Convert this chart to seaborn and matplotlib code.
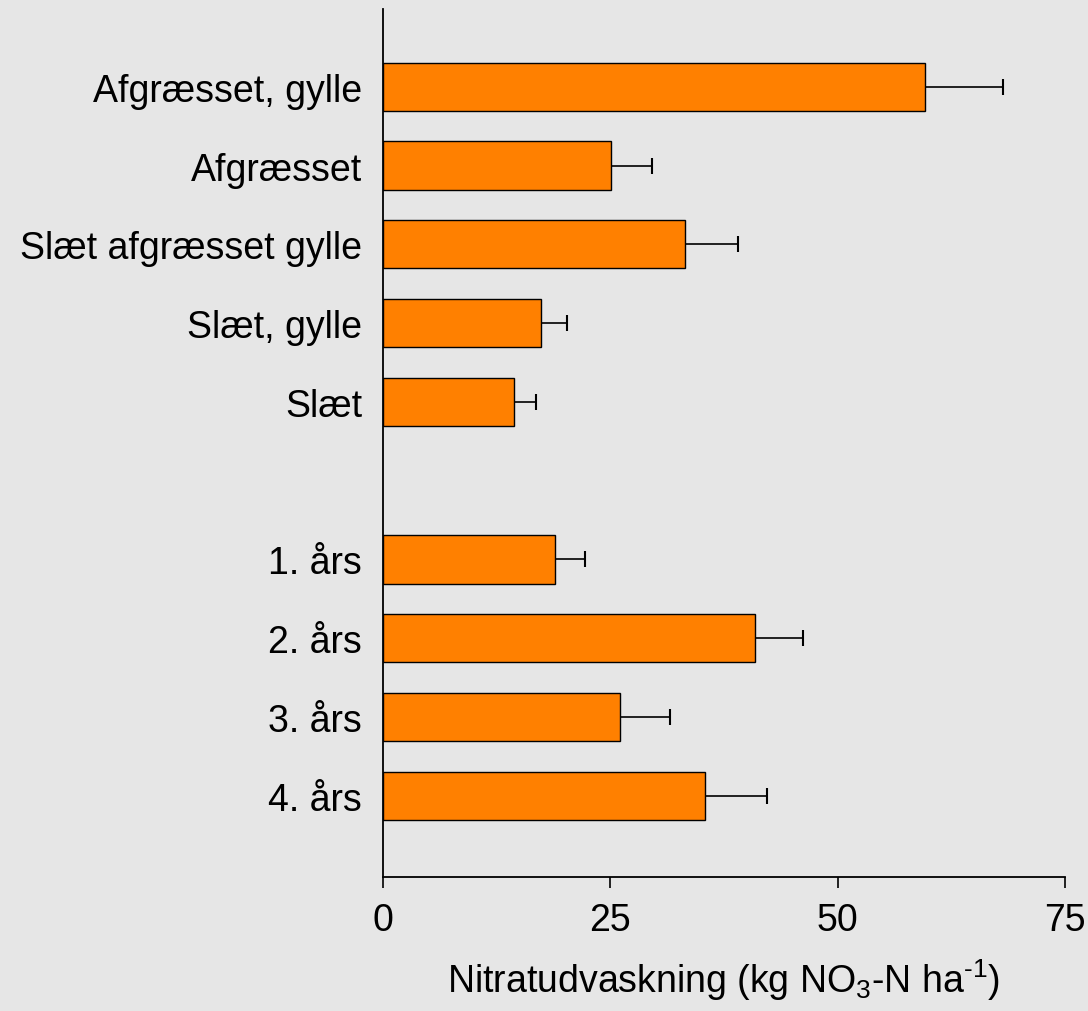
import numpy as np
import pandas as pd
import matplotlib
matplotlib.use("Agg")
import matplotlib.pyplot as plt
import seaborn as sns

# data (kg NO3-N per ha)
categories = ['Afgræsset, gylle', 'Afgræsset', 'Slæt afgræsset gylle', 'Slæt, gylle', 'Slæt',
              ' ', '1. års', '2. års', '3. års', '4. års']
values = [59.6, 25.1, 33.2, 17.4, 14.4, np.nan, 18.9, 40.9, 26.1, 35.4]
errors = [8.6, 4.5, 5.8, 2.8, 2.4, np.nan, 3.3, 5.3, 5.5, 6.8]
x_ticks = [0, 25, 50, 75]

df = pd.DataFrame({'Kategori': categories, 'Udvaskning': values, 'Fejl': errors})

sns.set_style('white')
plt.rcParams['font.family'] = ['Liberation Sans', 'DejaVu Sans']
plt.rcParams['mathtext.fontset'] = 'custom'
plt.rcParams['mathtext.rm'] = 'Liberation Sans'
plt.rcParams['mathtext.it'] = 'Liberation Sans'
plt.rcParams['text.color'] = 'black'
plt.rcParams['axes.labelcolor'] = 'black'
plt.rcParams['xtick.color'] = 'black'
plt.rcParams['ytick.color'] = 'black'

bg = '#e6e6e6'
fig = plt.figure(figsize=(10.88, 10.12), dpi=100, facecolor=bg)
ax = fig.add_axes([0.352, 0.1324, 0.627, 0.858])
ax.set_facecolor(bg)

sns.barplot(data=df, x='Udvaskning', y='Kategori', order=categories, orient='h',
            color='#ff8000', edgecolor='black', linewidth=1, width=0.61,
            saturation=1, ax=ax, errorbar=None)

# one-sided error bars at the bar centres
ypos = np.arange(len(categories))
mask = ~df['Udvaskning'].isna()
eb = ax.errorbar(df['Udvaskning'][mask], ypos[mask],
                 xerr=[np.zeros(mask.sum()), df['Fejl'][mask]],
                 fmt='none', ecolor='black', elinewidth=1.2, capsize=6, capthick=1.5)
eb[1][0].set_visible(False)  # no cap at the bar end

ax.set_xlim(0, 75)
ax.set_ylim(10.03, -0.99)
ax.set_xticks(x_ticks)
ax.set_xticklabels([str(t) for t in x_ticks])
ax.set_ylabel('')
ax.set_xlabel('Nitratudvaskning (kg NO$_3$-N ha$^{\\text{-1}}$)', fontsize=27, labelpad=13)

ax.tick_params(axis='x', bottom=True, length=8, width=1.2, direction='out', pad=10, labelsize=27)
ax.tick_params(axis='y', left=False, length=0, pad=15, labelsize=27)

sns.despine(ax=ax, top=True, right=True)
for s in ['left', 'bottom']:
    ax.spines[s].set_color('black')
    ax.spines[s].set_linewidth(1.3)

fig.savefig('out.png', dpi=100, facecolor=bg)
